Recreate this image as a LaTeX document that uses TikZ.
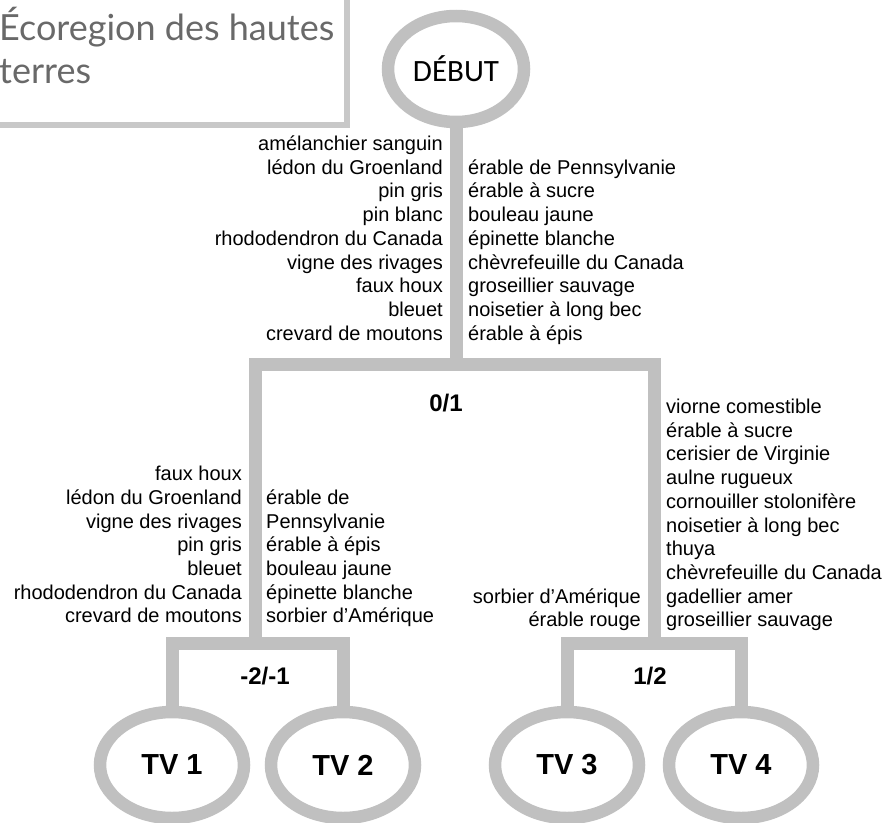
\documentclass[tikz,border=0pt]{standalone}
\usepackage{fontspec}
\setmainfont{Liberation Sans}
\newfontfamily\titlefont{Lato}
\newfontfamily\startfont{Carlito}
\usetikzlibrary{shapes.geometric, positioning}
\definecolor{linkgrey}{RGB}{192, 192, 192}
\definecolor{framegrey}{RGB}{200, 200, 200}
\definecolor{titlegrey}{RGB}{105, 105, 105}

\begin{document}
\begin{tikzpicture}[x=1pt, y=-1pt,
    stage/.style={ellipse, draw=linkgrey, line width=12.5pt, inner sep=0pt, minimum width=144pt, minimum height=106pt, font=\fontsize{29}{30}\selectfont\bfseries},
    link/.style={draw=linkgrey, line width=13pt},
    specieslist/.style={inner sep=0pt, font=\fontsize{20}{23.7}\selectfont},
    score/.style={inner sep=0pt, font=\fontsize{24}{26}\selectfont\bfseries},
    heading/.style={anchor=base west, inner sep=0pt, text=titlegrey, font=\titlefont\fontsize{36}{40}\selectfont}
]
\useasboundingbox (0,0) rectangle (885,822);

% Title frame
\draw[framegrey, line width=5.5pt] (-10,-10) rectangle (347,125);
\node (title1) [heading] at (-1,40) {Écoregion des hautes};
\node (title2) [heading] at (-1,83) {terres};

% Start node
\node (debut) [stage, minimum width=136pt, minimum height=106pt, font=\startfont\fontsize{31}{32}\selectfont] at (456,69) {DÉBUT};

% Junctions
\coordinate (split) at (456,364.5);
\coordinate (left) at (255,364.5);
\coordinate (right) at (654,364.5);
\coordinate (leftsplit) at (255,643.5);
\coordinate (rightsplit) at (654,643.5);

% End nodes
\node (tv1) [stage] at (172,765) {TV 1};
\node (tv2) [stage] at (343,765) {TV 2};
\node (tv3) [stage] at (567,765) {TV 3};
\node (tv4) [stage] at (741,765) {TV 4};

% Branches
\draw[link] (debut.south) -- (split);
\draw[link] (leftsplit) -- (left) -- (right) -- (rightsplit);
\draw[link] (tv1.north) |- (leftsplit) -| (tv2.north);
\draw[link] (tv3.north) |- (rightsplit) -| (tv4.north);

% Scores
\node (score01) [score] at (446,403) {0/1};
\node (score21) [score] at (265,676) {-2/-1};
\node (score12) [score] at (650,676) {1/2};

% Species lists, first split
\node (firstleft) [specieslist, align=right, above left=17pt and 13pt of split] {amélanchier sanguin\\lédon du Groenland\\pin gris\\pin blanc\\rhododendron du Canada\\vigne des rivages\\faux houx\\bleuet\\crevard de moutons\strut};
\node (firstright) [specieslist, align=left, above right=17pt and 12pt of split] {érable de Pennsylvanie\\érable à sucre\\bouleau jaune\\épinette blanche\\chèvrefeuille du Canada\\groseillier sauvage\\noisetier à long bec\\érable à épis\strut};

% Species lists, left split
\node (lowleft) [specieslist, align=right, above left=13.4pt and 13pt of leftsplit] {faux houx\\lédon du Groenland\\vigne des rivages\\pin gris\\bleuet\\rhododendron du Canada\\crevard de moutons\strut};
\node (lowmid) [specieslist, align=left, above right=13.4pt and 11pt of leftsplit] {érable de\\Pennsylvanie\\érable à épis\\bouleau jaune\\épinette blanche\\sorbier d’Amérique\strut};

% Species lists, right split
\node (highleft) [specieslist, align=right, above left=9.4pt and 13pt of rightsplit] {sorbier d’Amérique\\érable rouge\strut};
\node (highright) [specieslist, align=left, above right=9.4pt and 12pt of rightsplit] {viorne comestible\\érable à sucre\\cerisier de Virginie\\aulne rugueux\\cornouiller stolonifère\\noisetier à long bec\\thuya\\chèvrefeuille du Canada\\gadellier amer\\groseillier sauvage\strut};

\end{tikzpicture}
\end{document}
